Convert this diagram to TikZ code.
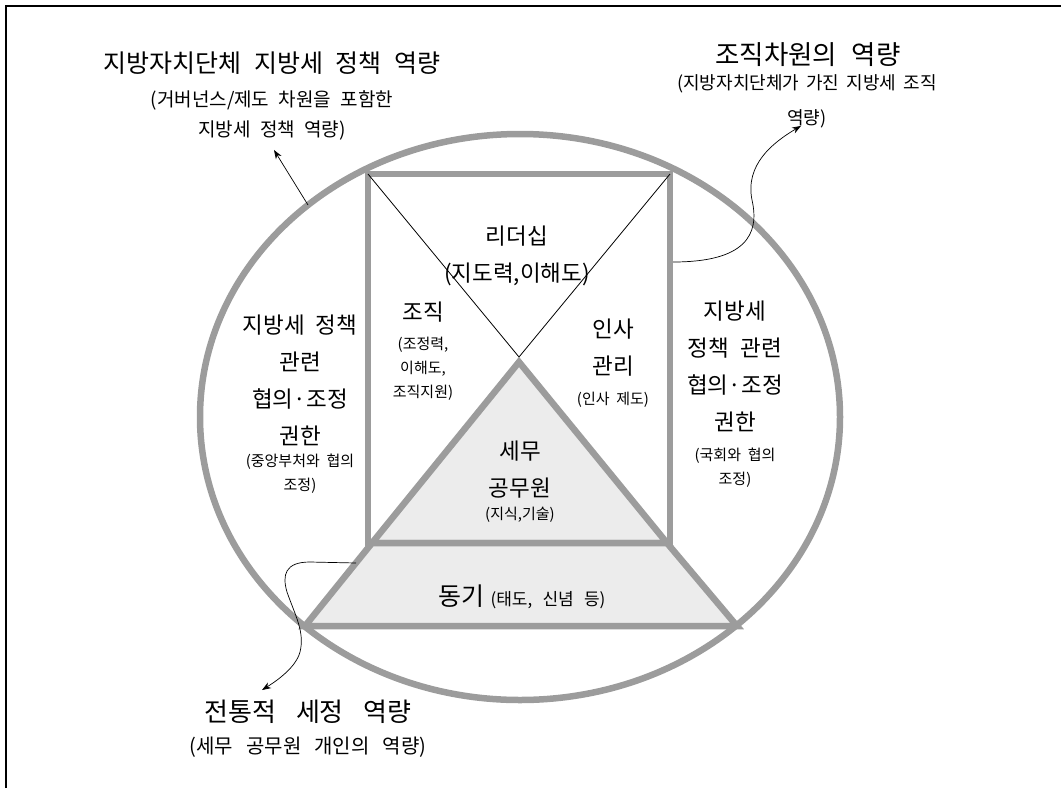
\documentclass[tikz,border=0pt]{standalone}
\usepackage{fontspec}
\setmainfont{Noto Sans CJK KR}
\usetikzlibrary{arrows.meta}
\definecolor{ringgray}{HTML}{9C9C9C}
\definecolor{padgray}{HTML}{ECECEC}
\newcommand\widesp[1]{\spaceskip=#1em\relax}
\begin{document}
\begin{tikzpicture}[x=1pt,y=-1pt,
  band/.style={draw=ringgray,line width=6.5pt},
  big/.style={font=\fontsize{22.5}{37}\selectfont\widesp{0.5},align=center,inner sep=0pt},
  small/.style={font=\fontsize{15}{24}\selectfont\widesp{0.45},align=center,inner sep=0pt},
  head/.style={font=\fontsize{25}{30}\selectfont\widesp{0.5},align=center,inner sep=0pt},
  sub/.style={font=\fontsize{19}{30}\selectfont\widesp{0.5},align=center,inner sep=0pt},
  arr/.style={-{Stealth[length=9pt,width=6.5pt]},line width=0.7pt}]
\useasboundingbox (0,0) rectangle (1061,788);
% frame
\draw[line width=1.2pt] (6,788) -- (6,6) -- (1061,6);
% outer ring
\draw[band] (520,417) ellipse [x radius=320pt, y radius=283pt];
% box and pyramid
\coordinate (tl) at (368,174);
\coordinate (tr) at (670,174);
\coordinate (apex) at (519,362);
\draw[band] (tl) rectangle (670,543);
\draw[line width=0.8pt] (tl) -- (519,357) -- (tr);
\filldraw[band,fill=padgray] (apex) -- (372,543) -- (667,543) -- cycle;
\filldraw[band,fill=padgray] (372,543) -- (667,543) -- (737,626) -- (305,626) -- cycle;
% inner labels
\node[big] (lead) at (517,256) {리더십\\(지도력,이해도)};
\node[big] (org) at (423,312) {조직};
\node[small] (orgsmall) at (423,369) {(조정력,\\이해도,\\조직지원)};
\node[big] (hr) at (613,348) {인사\\관리};
\node[small] (hrsmall) at (613,400) {(인사 제도)};
\node[big] (tax) at (520,470) {세무\\공무원};
\node[small] (taxsmall) at (520,515) {(지식,기술)};
\node[inner sep=0pt] (motiv) at (522,597) {\fontsize{25}{28}\selectfont 동기\hspace{6pt}\fontsize{17}{20}\selectfont\widesp{0.6}(태도, 신념 등)};
\node[big] (leftbig) at (300,380) {지방세 정책\\관련\\협의·조정\\권한};
\node[small] (leftsmall) at (300,474) {(중앙부처와 협의\\조정)};
\node[big] (rightbig) at (735,366) {지방세\\정책 관련\\협의·조정\\권한};
\node[small] (rightsmall) at (735,468) {(국회와 협의\\조정)};
% outer labels
\node[head] (govhead) at (272,63) {지방자치단체 지방세 정책 역량};
\node[sub] (govsub) at (272,115) {(거버넌스/제도 차원을 포함한\\지방세 정책 역량)};
\node[font=\fontsize{26.5}{30}\selectfont\widesp{0.55},inner sep=0pt] (orghead) at (808,55) {조직차원의 역량};
\node[font=\fontsize{18}{35}\selectfont\widesp{0.4},align=center,inner sep=0pt] (orgsub) at (807,101) {(지방자치단체가 가진 지방세 조직\\역량)};
\node[font=\fontsize{26}{30}\selectfont\widesp{0.75},inner sep=0pt] (tradhead) at (308,712) {전통적 세정 역량};
\node[font=\fontsize{20}{30}\selectfont\widesp{0.65},inner sep=0pt] (tradsub) at (308,747) {(세무 공무원 개인의 역량)};
% connectors
\coordinate (govtail) at (308,205);
\coordinate (orgtail) at (673,262);
\coordinate (tradtail) at (356,563);
\draw[arr] (govtail) -- ([shift={(2,10)}]govsub.south);
\draw[arr] (orgtail) .. controls (745,262) and (760,235) .. (752,200)
  .. controls (745,165) and (772,143) .. ([shift={(-6,-2)}]orgsub.south);
\draw[arr] (tradtail) -- (310,562) .. controls (285,562) and (282,575) .. (287,592)
  .. controls (295,615) and (305,632) .. (300,652)
  .. controls (296,667) and (278,680) .. ([xshift=-46pt,yshift=10pt]tradhead.north);
\end{tikzpicture}
\end{document}
